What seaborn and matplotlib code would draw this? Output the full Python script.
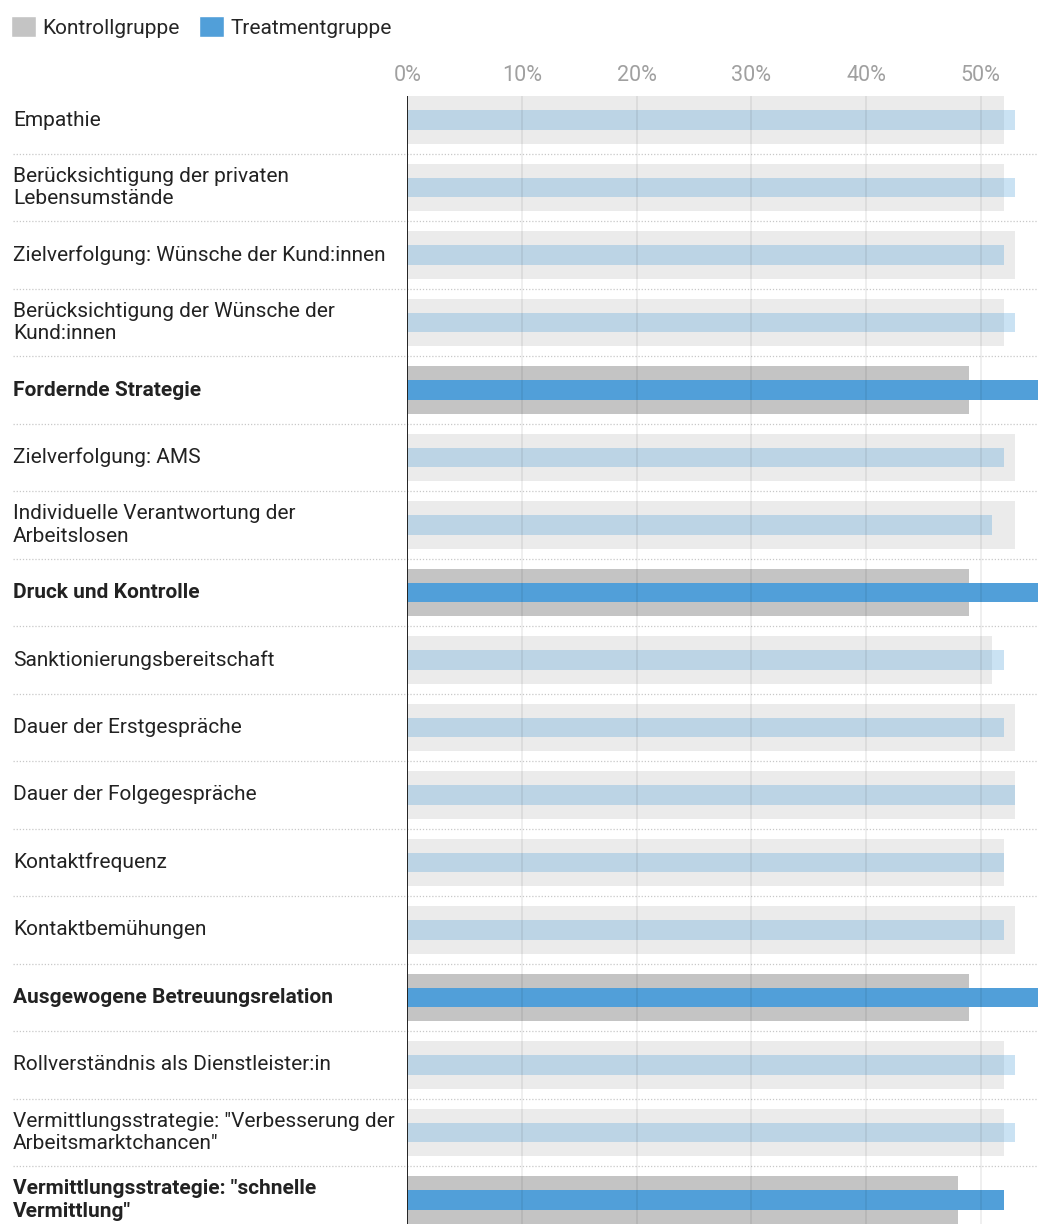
import pandas as pd
import seaborn as sns
import matplotlib.pyplot as plt
import matplotlib.transforms as mtransforms
from matplotlib.patches import Patch

# Daten
kategorien = [
    "Empathie",
    "Berücksichtigung der privaten\nLebensumstände",
    "Zielverfolgung: Wünsche der Kund:innen",
    "Berücksichtigung der Wünsche der\nKund:innen",
    "Fordernde Strategie",
    "Zielverfolgung: AMS",
    "Individuelle Verantwortung der\nArbeitslosen",
    "Druck und Kontrolle",
    "Sanktionierungsbereitschaft",
    "Dauer der Erstgespräche",
    "Dauer der Folgegespräche",
    "Kontaktfrequenz",
    "Kontaktbemühungen",
    "Ausgewogene Betreuungsrelation",
    "Rollverständnis als Dienstleister:in",
    "Vermittlungsstrategie: \"Verbesserung der\nArbeitsmarktchancen\"",
    "Vermittlungsstrategie: \"schnelle\nVermittlung\"",
]
kontrollgruppe = [52, 52, 53, 52, 49, 53, 53, 49, 51, 53, 53, 52, 53, 49, 52, 52, 48]
treatmentgruppe = [53, 53, 52, 53, 57, 52, 51, 57, 52, 52, 53, 52, 52, 55, 53, 53, 52]
hervorgehoben = [False, False, False, False, True, False, False, True, False,
                 False, False, False, False, True, False, False, True]
ticks = [0, 10, 20, 30, 40, 50]

grau = "#C4C4C4"
blau = "#519FD9"

df = pd.DataFrame({"kat": kategorien, "kontroll": kontrollgruppe,
                   "treatment": treatmentgruppe, "hl": hervorgehoben})

sns.set_style("white")
plt.rcParams["font.family"] = ["Roboto", "DejaVu Sans"]

fig = plt.figure(figsize=(10.38, 12.24), dpi=100)
W, H = 1038, 1224
ax_left, ax_top, ax_bottom = 407.3, 96, 1224
ax = fig.add_axes([ax_left / W, 1 - ax_bottom / H, 1 - ax_left / W, (ax_bottom - ax_top) / H])

sns.barplot(data=df, x="kontroll", y="kat", color=grau, width=0.7,
            orient="h", ax=ax, saturation=1, linewidth=0)
n = len(kategorien)
for i, p in enumerate(ax.patches[:n]):
    p.set_alpha(1 if hervorgehoben[i] else 0.33)
sns.barplot(data=df, x="treatment", y="kat", color=blau, width=0.29,
            orient="h", ax=ax, saturation=1, linewidth=0)
for i, p in enumerate(ax.patches[n:]):
    p.set_alpha(1 if hervorgehoben[i] else 0.3)

ax.set_xlim(0, 55)
ax.set_ylim(n - 1 + 0.356, -0.356)
ax.set_xlabel("")
ax.set_ylabel("")
ax.set_yticks([])
ax.xaxis.tick_top()
ax.set_xticks(ticks)
ax.set_xticklabels([f"{t}%" for t in ticks], color="#A0A0A0", fontsize=15.5)
ax.tick_params(axis="x", length=0, pad=7.5)
for s in ax.spines.values():
    s.set_visible(False)

ax.set_axisbelow(False)
ax.grid(axis="x", color="black", alpha=0.07, linewidth=1.3)
ax.axvline(0, color="#222222", linewidth=1.4, zorder=5)

# Zeilenbeschriftungen und Trennlinien
trans = mtransforms.blended_transform_factory(fig.transFigure, ax.transData)
for i, (kat, hl) in enumerate(zip(kategorien, hervorgehoben)):
    ax.text(13 / W, i, kat, transform=trans, ha="left", va="center",
            fontsize=15, color="#222222", fontweight="bold" if hl else "normal",
            linespacing=1.22, clip_on=False)
    if i < n - 1:
        ax.plot([13 / W, 1], [i + 0.5, i + 0.5], transform=trans, color="#C8C8C8",
                linestyle=(0, (1, 1.5)), linewidth=0.9, clip_on=False, zorder=0)

# Legende
handles = [Patch(facecolor=grau, label="Kontrollgruppe"),
           Patch(facecolor=blau, label="Treatmentgruppe")]
fig.legend(handles=handles, loc="upper left", bbox_to_anchor=(0.011, 0.987),
           ncol=2, frameon=False, fontsize=15, handlelength=1.2, handleheight=1.2,
           handletextpad=0.3, columnspacing=0.9, borderaxespad=0, borderpad=0)

fig.savefig("out.png", dpi=100)
